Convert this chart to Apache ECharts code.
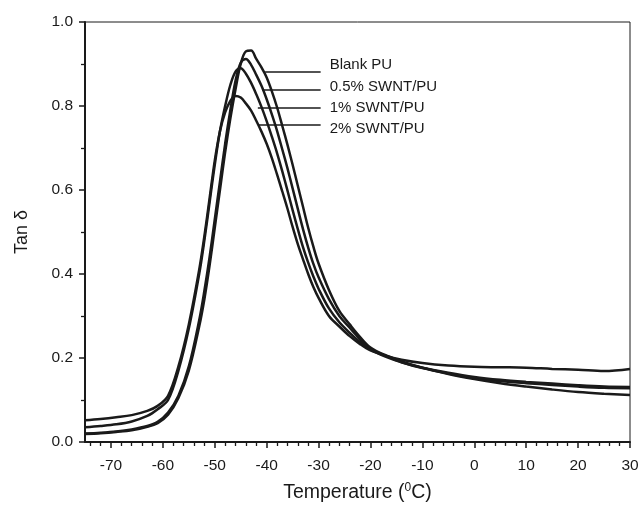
<!DOCTYPE html>
<html>
<head>
<meta charset="utf-8">
<script src="https://cdn.jsdelivr.net/npm/echarts@6/dist/echarts.min.js"></script>
<style>html,body{margin:0;padding:0;background:#fff;}#c{width:642px;height:508px;}</style>
</head>
<body>
<div id="c"></div>
<script>
const temps = [-75,-72,-69,-66,-63,-61,-59,-57,-55,-53,-52,-51,-50,-49,-48,-47,-46,-45,-44,-43,-42,-41,-40,-39,-38,-37,-36,-35,-34,-33,-32,-31,-30,-28,-26,-24,-22,-20,-17,-14,-10,-5,0,5,10,15,20,25,30];

const blankPU = [0.019,0.021,0.024,0.028,0.036,0.045,0.065,0.105,0.17,0.275,0.34,0.42,0.51,0.60,0.69,0.77,0.84,0.9,0.93,0.932,0.912,0.892,0.868,0.835,0.797,0.753,0.708,0.66,0.61,0.56,0.51,0.465,0.425,0.362,0.312,0.28,0.25,0.225,0.206,0.192,0.177,0.162,0.15,0.14,0.132,0.125,0.119,0.115,0.112];
const swnt05 = [0.02,0.022,0.025,0.03,0.038,0.048,0.07,0.11,0.18,0.29,0.36,0.44,0.53,0.62,0.71,0.79,0.86,0.903,0.912,0.898,0.874,0.848,0.816,0.78,0.741,0.697,0.652,0.604,0.555,0.507,0.463,0.424,0.392,0.34,0.3,0.272,0.245,0.222,0.205,0.19,0.176,0.163,0.152,0.145,0.14,0.136,0.132,0.129,0.128];
const swnt1 = [0.035,0.038,0.042,0.049,0.062,0.078,0.10,0.17,0.27,0.40,0.48,0.57,0.66,0.74,0.80,0.85,0.882,0.89,0.877,0.855,0.828,0.798,0.764,0.727,0.688,0.645,0.599,0.552,0.507,0.464,0.427,0.394,0.365,0.318,0.285,0.26,0.238,0.22,0.203,0.19,0.177,0.165,0.155,0.148,0.143,0.139,0.135,0.132,0.131];
const swnt2 = [0.052,0.055,0.059,0.064,0.074,0.086,0.11,0.18,0.28,0.41,0.49,0.58,0.67,0.74,0.785,0.812,0.824,0.82,0.806,0.789,0.765,0.739,0.71,0.676,0.637,0.597,0.556,0.512,0.471,0.435,0.4,0.369,0.343,0.30,0.275,0.252,0.233,0.218,0.205,0.196,0.188,0.182,0.179,0.178,0.177,0.174,0.172,0.169,0.174];

const seriesNames = ['Blank PU','0.5% SWNT/PU','1% SWNT/PU','2% SWNT/PU'];
// leader lines: start temperature, end temperature, level
const leaderStart = [-40.3, -40.9, -41.7, -41.5];
const leaderEnd = [-29.6, -29.6, -29.6, -29.6];
const leaderLevel = [0.882, 0.838, 0.796, 0.755];
const labelShift = [-7, -3, 0, 4];

const majorTicks = [-70,-60,-50,-40,-30,-20,-10,0,10,20,30];
const minorTicks = [-74,-72,-68,-66,-64,-62,-58,-56,-54,-52,-48,-46,-44,-42,-38,-36,-34,-32,-28,-26,-24,-22,-18,-16,-14,-12,-8,-6,-4,-2,2,4,6,8,12,14,16,18,22,24,26,28];

const allValues = [blankPU, swnt05, swnt1, swnt2];
const FONT = '"Liberation Sans", Arial, sans-serif';
const INK = '#1a1a1a';

const chart = echarts.init(document.getElementById('c'), null, {renderer: 'canvas'});

const series = allValues.map((vals, i) => ({
  name: seriesNames[i],
  type: 'line',
  xAxisIndex: 0,
  yAxisIndex: 0,
  data: temps.map((t, k) => [t, vals[k]]),
  showSymbol: false,
  smooth: 0.35,
  lineStyle: {color: INK, width: 2.5},
  z: 3,
  markLine: {
    silent: true,
    symbol: ['none', 'none'],
    lineStyle: {color: INK, width: 1.6, type: 'solid'},
    label: {
      show: true,
      position: 'end',
      distance: 9,
      formatter: seriesNames[i],
      color: INK,
      fontFamily: FONT,
      fontSize: 15,
      offset: [0, labelShift[i]]
    },
    data: [[
      {coord: [leaderStart[i], leaderLevel[i]]},
      {coord: [leaderEnd[i], leaderLevel[i]]}
    ]]
  }
}));

chart.setOption({
  backgroundColor: '#fff',
  animation: false,
  grid: {left: 85, right: 12, top: 22, bottom: 66, show: true, borderColor: INK, borderWidth: 1, backgroundColor: 'transparent'},
  xAxis: [{
    type: 'value', min: -75, max: 30,
    name: 'Temperature ({sup|0}C)',
    nameLocation: 'middle', nameGap: 40,
    nameTextStyle: {
      fontFamily: FONT, fontSize: 19.5, color: INK,
      rich: {sup: {fontFamily: FONT, fontSize: 12, color: INK, verticalAlign: 'bottom', padding: [0, 0, 10, 0]}}
    },
    axisLine: {show: true, onZero: false, lineStyle: {color: INK, width: 2}},
    axisTick: {show: true, inside: false, length: 6, lineStyle: {color: INK, width: 1.5}, customValues: majorTicks},
    axisLabel: {show: true, margin: 16, fontFamily: FONT, fontSize: 15.5, color: INK, customValues: majorTicks},
    splitLine: {show: false}
  }, {
    type: 'value', min: -75, max: 30, position: 'bottom', offset: 0,
    axisLine: {show: false},
    axisTick: {show: true, inside: false, length: 4, lineStyle: {color: INK, width: 1.3}, customValues: minorTicks},
    axisLabel: {show: false},
    splitLine: {show: false}
  }],
  yAxis: {
    type: 'value', min: 0, max: 1, interval: 0.2,
    name: 'Tan δ', nameLocation: 'middle', nameGap: 54, nameRotate: 90,
    nameTextStyle: {fontFamily: FONT, fontSize: 18, color: INK},
    axisLine: {show: true, onZero: false, lineStyle: {color: INK, width: 2}},
    axisTick: {show: true, inside: false, length: 6, lineStyle: {color: INK, width: 1.5}},
    minorTick: {show: true, splitNumber: 2, length: 4, lineStyle: {color: INK, width: 1.3}},
    axisLabel: {margin: 12, fontFamily: FONT, fontSize: 15.5, color: INK, formatter: v => v.toFixed(1)},
    splitLine: {show: false}
  },
  series: series
});
</script>
</body>
</html>
